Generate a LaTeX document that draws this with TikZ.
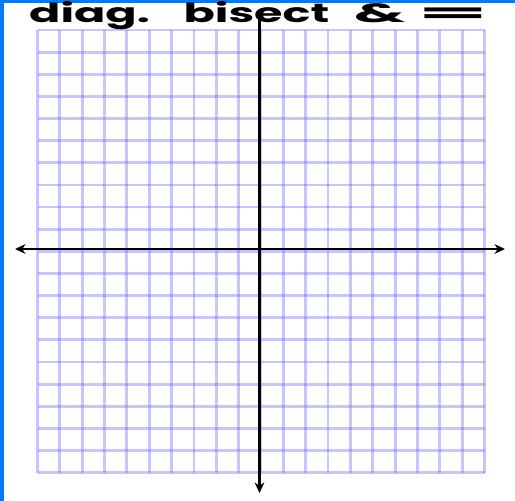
\documentclass[tikz,border=0pt]{standalone}
\usepackage{fontspec}
\setmainfont{Poppins}
\usetikzlibrary{arrows.meta}

\definecolor{gridblue}{RGB}{110,110,255}
\definecolor{frameblue}{RGB}{0,122,255}

\begin{document}
\begin{tikzpicture}[x=0.02cm, y=-0.02cm, thick]

% 画布与边框
\useasboundingbox (0,0) rectangle (515,501);
\fill[white] (0,0) rectangle (515,501);
\fill[frameblue] (0,0) rectangle (4,501);
\fill[frameblue] (0,0) rectangle (515,2.5);

% 方格纸 20 x 20
\foreach \i in {0,...,20} {
  \draw[gridblue, draw opacity=0.4, line width=1.6pt]
    ({37.5+22.35*\i},30) -- ({37.5+22.35*\i},472.7);
  \draw[gridblue, draw opacity=0.4, line width=1.6pt]
    (37.5,{30+22.135*\i}) -- (484.5,{30+22.135*\i});
}

% 坐标轴
\coordinate (L) at (15,249);
\coordinate (R) at (505,249);
\coordinate (T) at (259.5,18);
\coordinate (B) at (259.5,493);
\draw[black, line width=1.7pt, {Stealth[length=6pt,width=5.5pt]}-{Stealth[length=6pt,width=5.5pt]}] (L) -- (R);
\draw[black, line width=1.7pt, -{Stealth[length=6pt,width=5.5pt]}] (T) -- (B);

% 标题
\node[anchor=base west, font=\bfseries\fontsize{15}{15}\selectfont, xscale=1.75, inner sep=0pt] (title) at (28,22)
  {diag.\hspace{11pt}bisect\hspace{8pt}\scalebox{1.4}[1]{\&}\hspace{4pt}\scalebox{2.2}[1]{=}};

\end{tikzpicture}
\end{document}
